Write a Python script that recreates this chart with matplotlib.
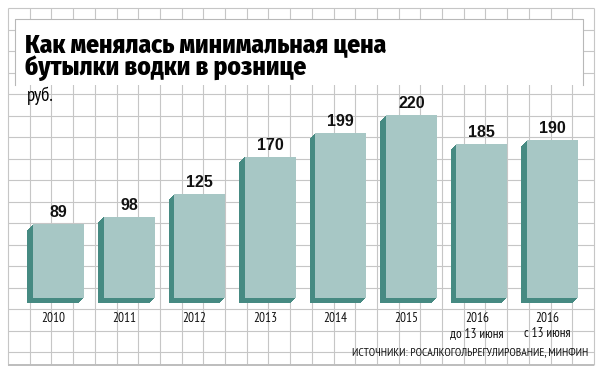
import matplotlib
matplotlib.use("Agg")
import matplotlib.pyplot as plt
import numpy as np
from matplotlib.transforms import ScaledTranslation
from matplotlib.patches import Rectangle

# ---- data ----
years = ["2010", "2011", "2012", "2013", "2014", "2015", "2016", "2016"]
sublabels = ["", "", "", "", "", "", "до 13 июня", "с 13 июня"]
prices = [89, 98, 125, 170, 199, 220, 185, 190]
title_lines = ["Как менялась минимальная цена", "бутылки водки в рознице"]
unit_label = "руб."
source_text = "ИСТОЧНИКИ: РОСАЛКОГОЛЬРЕГУЛИРОВАНИЕ, МИНФИН"

FACE = "#a7c7c5"
DARK = "#468a82"
GRID = "#c6c6c6"
NARROW = ["PT Sans Narrow", "DejaVu Sans"]
TITLE_FONT = ["Fira Sans Condensed", "DejaVu Sans"]

W, H = 602, 374
fig = plt.figure(figsize=(W / 100, H / 100), dpi=100)
fig.patch.set_facecolor("white")

# ---- background grid (pixel coordinates) ----
bg = fig.add_axes([0, 0, 1, 1])
bg.set_xlim(0, W)
bg.set_ylim(H, 0)
bg.axis("off")
gx = 8 + np.arange(28) * (586 / 27)
gy = list(8 + np.arange(17) * 21.5)
bg.vlines(gx, 8, 365, color=GRID, lw=0.8)
bg.hlines(gy, 8, 594, color=GRID, lw=0.8)
bg.hlines([365], 8, 594, color="#bdbdbd", lw=1.4)

# title box
bg.add_patch(Rectangle((15, 19), 568, 66, facecolor="white", edgecolor="none", zorder=3))
bg.plot([15, 15, 583, 583], [85, 19, 19, 85], color="#b8b8b8", lw=0.8, zorder=4)

# ---- bars axes ----
ax = fig.add_axes([0, 0, 1, 1])
ax.patch.set_alpha(0)
ax.axis("off")
ax.set_xlim(-0.829, 7.702)
ax.set_ylim(-91.5, 358.6)

x = np.arange(len(prices))
bw = 0.723
for k in np.arange(0.5, 5.51, 0.5):
    tr = ax.transData + ScaledTranslation(-k / 100, -k / 100, fig.dpi_scale_trans)
    ax.bar(x, prices, width=bw, color=DARK, transform=tr, linewidth=0)
ax.bar(x, prices, width=bw, color=FACE, linewidth=0)

for xi, v in zip(x, prices):
    ax.annotate(str(v), (xi, v), xytext=(0, 5), textcoords="offset points",
                ha="center", va="baseline", fontsize=11.5, fontweight="bold",
                family="Liberation Sans", color="#111111")

for xi, y, s in zip(x, years, sublabels):
    ax.annotate(y, (xi, 0), xytext=(-3.6, -17.3), textcoords="offset points",
                ha="center", va="baseline", fontsize=9.5,
                family=NARROW, color="#111111")
    if s:
        ax.annotate(s, (xi, 0), xytext=(-3.6, -28.1), textcoords="offset points",
                    ha="center", va="baseline", fontsize=9.5,
                    family=NARROW, color="#111111")

# ---- texts ----
fig.text(25 / W, 1 - 75 / H, "\n".join(title_lines), ha="left", va="baseline",
         fontsize=18.3, fontweight=800, family=TITLE_FONT, color="black",
         linespacing=0.88, zorder=5)
fig.text(27 / W, 1 - 101 / H, unit_label, ha="left", va="baseline",
         fontsize=13.5, family=NARROW, color="black")
fig.text(588 / W, 1 - 355 / H, source_text, ha="right", va="baseline",
         fontsize=8.4, family=NARROW, color="#111111")

fig.savefig("out.png", dpi=100, facecolor="white")
